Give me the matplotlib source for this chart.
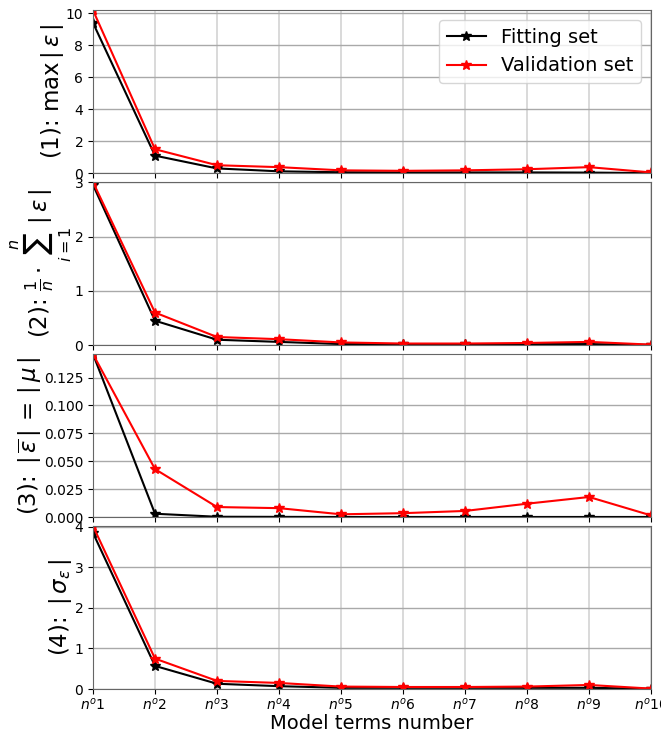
import matplotlib
matplotlib.use("Agg")
import matplotlib.pyplot as plt
from matplotlib.ticker import MultipleLocator
import numpy as np

x_labels = [r"$n^o1$", r"$n^o2$", r"$n^o3$", r"$n^o4$", r"$n^o5$",
            r"$n^o6$", r"$n^o7$", r"$n^o8$", r"$n^o9$", r"$n^o10$"]

fit_max = [9.4, 1.1, 0.3, 0.12, 0.06, 0.05, 0.05, 0.05, 0.04, 0.01]
val_max = [10.19, 1.5, 0.5, 0.38, 0.18, 0.15, 0.18, 0.25, 0.38, 0.05]

fit_mae = [2.95, 0.45, 0.10, 0.06, 0.02, 0.02, 0.02, 0.02, 0.02, 0.005]
val_mae = [3.0, 0.60, 0.15, 0.11, 0.05, 0.03, 0.03, 0.04, 0.06, 0.01]

fit_mean = [0.146, 0.003, 0.0003, 0.0002, 0.0001, 0.0001, 0.0001, 0.0001, 0.0001, 0.0001]
val_mean = [0.146, 0.043, 0.009, 0.008, 0.0025, 0.0035, 0.0055, 0.012, 0.018, 0.0015]

fit_std = [3.85, 0.57, 0.13, 0.07, 0.03, 0.03, 0.03, 0.03, 0.03, 0.005]
val_std = [4.02, 0.75, 0.20, 0.15, 0.06, 0.05, 0.05, 0.06, 0.10, 0.01]

ylabels = [r"(1): max$\,|\,\varepsilon\,|$",
           r"(2): $\frac{1}{n}\cdot\sum_{i=1}^{n}\,|\,\varepsilon\,|$",
           r"(3): $\,|\,\overline{\varepsilon}\,|\,=\,|\,\mu\,|$",
           r"(4): $\,|\,\sigma_{\varepsilon}\,|$"]
ytick_steps = [2, 1, 0.025, 1]

fits = [fit_max, fit_mae, fit_mean, fit_std]
vals = [val_max, val_mae, val_mean, val_std]

fig, axes = plt.subplots(4, 1, figsize=(6.61, 7.33), dpi=100, sharex=True)
fig.subplots_adjust(left=0.1407, right=0.985, top=0.986, bottom=0.06, hspace=0.055)

x = np.arange(len(x_labels))
for i, ax in enumerate(axes):
    ax.plot(x, fits[i], color="black", marker="*", markersize=7, lw=1.5, label="Fitting set")
    ax.plot(x, vals[i], color="red", marker="*", markersize=7, lw=1.5, label="Validation set")
    ax.set_xlim(0, 9)
    ax.set_ylim(0, max(max(fits[i]), max(vals[i])))
    ax.yaxis.set_major_locator(MultipleLocator(ytick_steps[i]))
    ax.xaxis.grid(True, color="lightgrey", lw=1.2)
    ax.yaxis.grid(True, color="darkgrey", lw=1.0)
    ax.set_axisbelow(True)
    ax.set_ylabel(ylabels[i], fontsize=16.5, labelpad=0)
    for s in ax.spines.values():
        s.set_color("0.4")
    ax.tick_params(labelsize=10)

axes[2].yaxis.set_major_formatter(matplotlib.ticker.FormatStrFormatter("%.3f"))
axes[0].legend(fontsize=14, loc="upper right")
axes[-1].set_xticks(x)
axes[-1].set_xticklabels(x_labels)
axes[-1].tick_params(axis="x", pad=2)
axes[-1].set_xlabel("Model terms number", fontsize=14, labelpad=1)

fig.savefig("out.png", dpi=100)
